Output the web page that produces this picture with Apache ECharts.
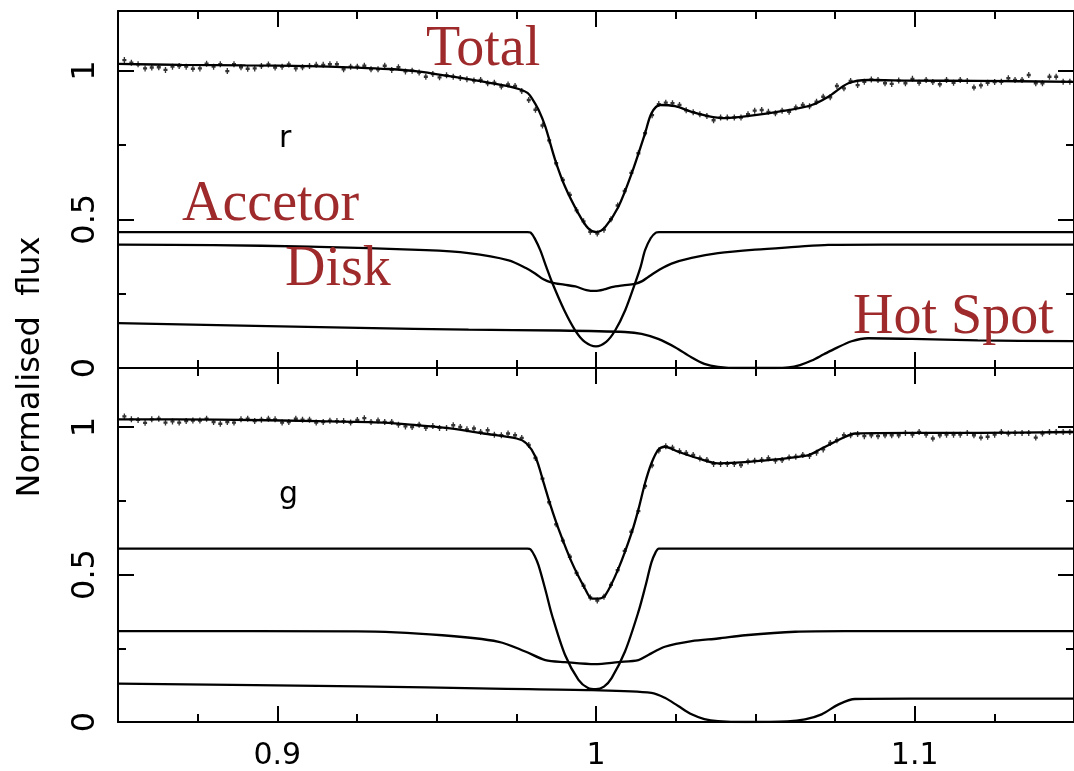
<!DOCTYPE html>
<html><head><meta charset="utf-8">
<script src="https://cdn.jsdelivr.net/npm/echarts@6/dist/echarts.min.js"></script>
<style>html,body{margin:0;padding:0;background:#fff}#c{width:1074px;height:771px}</style>
</head><body><div id="c"></div>
<script>
// ---- data ----
const phases = [0.8520,0.8542,0.8563,0.8585,0.8606,0.8628,0.8649,0.8671,0.8692,0.8714,
0.8735,0.8757,0.8778,0.8800,0.8821,0.8843,0.8864,0.8886,0.8907,0.8929,
0.8950,0.8972,0.8993,0.9015,0.9036,0.9058,0.9079,0.9101,0.9122,0.9144,
0.9165,0.9187,0.9208,0.9230,0.9251,0.9273,0.9294,0.9316,0.9337,0.9359,
0.9380,0.9402,0.9423,0.9445,0.9466,0.9488,0.9509,0.9531,0.9552,0.9574,
0.9595,0.9617,0.9638,0.9660,0.9681,0.9703,0.9724,0.9746,0.9767,0.9789,
0.9810,0.9832,0.9853,0.9875,0.9896,0.9918,0.9939,0.9961,0.9982,1.0004,
1.0025,1.0047,1.0068,1.0090,1.0111,1.0133,1.0154,1.0176,1.0197,1.0219,
1.0240,1.0262,1.0283,1.0305,1.0326,1.0348,1.0369,1.0391,1.0412,1.0434,
1.0455,1.0477,1.0498,1.0520,1.0541,1.0563,1.0584,1.0606,1.0627,1.0649,
1.0670,1.0692,1.0713,1.0735,1.0756,1.0778,1.0799,1.0821,1.0842,1.0864,
1.0885,1.0907,1.0928,1.0950,1.0971,1.0993,1.1014,1.1036,1.1057,1.1079,
1.1100,1.1122,1.1143,1.1165,1.1186,1.1208,1.1229,1.1251,1.1272,1.1294,
1.1315,1.1337,1.1358,1.1380,1.1401,1.1423,1.1444,1.1466,1.1487];

const dotsR = [1.035,1.026,1.021,1.007,1.010,1.011,1.002,1.013,1.015,1.013,
1.006,1.007,1.023,1.013,1.021,0.998,1.021,1.011,1.006,1.007,
1.015,1.020,1.010,1.013,1.020,1.007,1.011,1.015,1.019,1.019,
1.021,1.021,1.004,1.013,1.013,1.016,1.004,1.004,1.016,1.002,
1.011,0.997,0.999,0.993,0.979,0.988,0.977,0.984,0.979,0.975,
0.971,0.966,0.968,0.957,0.959,0.946,0.953,0.948,0.931,0.901,
0.868,0.815,0.765,0.688,0.632,0.582,0.530,0.493,0.458,0.452,
0.465,0.500,0.546,0.595,0.656,0.722,0.789,0.850,0.887,0.892,
0.890,0.884,0.866,0.860,0.853,0.847,0.833,0.842,0.842,0.842,
0.842,0.853,0.865,0.867,0.861,0.856,0.865,0.861,0.876,0.884,
0.880,0.895,0.912,0.910,0.948,0.940,0.965,0.951,0.962,0.970,
0.968,0.957,0.955,0.966,0.957,0.972,0.959,0.968,0.961,0.954,
0.968,0.959,0.968,0.965,0.943,0.950,0.959,0.961,0.962,0.974,
0.968,0.968,0.985,0.957,0.957,0.979,0.979,0.962,0.962];

const dotsG = [1.036,1.026,1.024,1.014,1.026,1.028,1.015,1.019,1.015,1.020,
1.022,1.022,1.028,1.017,1.011,1.017,1.015,1.026,1.028,1.020,
1.025,1.028,1.026,1.015,1.017,1.028,1.025,1.025,1.015,1.017,
1.021,1.020,1.020,1.015,1.024,1.030,1.017,1.022,1.017,1.017,
1.008,1.002,1.000,1.008,0.997,1.003,0.997,0.997,1.006,1.000,
0.992,0.995,0.983,0.989,0.974,0.972,0.978,0.972,0.963,0.939,
0.895,0.825,0.745,0.670,0.615,0.560,0.505,0.462,0.422,0.412,
0.425,0.465,0.515,0.580,0.645,0.715,0.800,0.870,0.920,0.935,
0.930,0.918,0.912,0.905,0.893,0.888,0.875,0.875,0.875,0.875,
0.871,0.883,0.886,0.888,0.894,0.886,0.888,0.897,0.899,0.905,
0.902,0.913,0.924,0.946,0.955,0.972,0.972,0.976,0.969,0.972,
0.969,0.972,0.972,0.972,0.980,0.974,0.983,0.974,0.961,0.972,
0.974,0.974,0.974,0.980,0.972,0.964,0.967,0.974,0.983,0.978,
0.980,0.980,0.980,0.964,0.978,0.983,0.983,0.983,0.983];

const totalR = [[0.850,1.022],[0.870,1.019],[0.890,1.017],[0.910,1.015],[0.925,1.010],[0.935,1.005],[0.944,0.997],[0.954,0.981],[0.965,0.962],[0.972,0.948],[0.976,0.937],[0.9785,0.925],[0.980,0.905],[0.982,0.867],[0.9841,0.811],[0.9872,0.699],[0.9903,0.609],[0.9945,0.519],[0.9975,0.470],[1.0002,0.457],[1.0029,0.474],[1.007,0.541],[1.0112,0.654],[1.0154,0.789],[1.0174,0.856],[1.0201,0.884],[1.0248,0.880],[1.030,0.861],[1.0352,0.847],[1.040,0.840],[1.0468,0.846],[1.0604,0.867],[1.0677,0.884],[1.0729,0.912],[1.0792,0.957],[1.0854,0.968],[1.099,0.966],[1.1198,0.965],[1.150,0.962]];
const accretorR = [[0.850,0.457],[0.970,0.457],[0.9785,0.457],[0.9795,0.455],[0.9808,0.435],[0.9825,0.396],[0.9844,0.340],[0.9864,0.283],[0.9900,0.195],[0.9935,0.126],[0.9965,0.088],[1.0000,0.073],[1.0032,0.088],[1.0060,0.126],[1.0092,0.195],[1.0122,0.283],[1.0140,0.340],[1.0154,0.396],[1.0172,0.437],[1.0188,0.455],[1.0198,0.457],[1.030,0.457],[1.150,0.457]];
const diskR = [[0.850,0.415],[0.880,0.413],[0.910,0.408],[0.9466,0.396],[0.960,0.386],[0.9726,0.362],[0.978,0.336],[0.981,0.317],[0.9835,0.298],[0.9862,0.287],[0.9900,0.280],[0.9935,0.274],[0.9970,0.262],[0.9997,0.259],[1.0025,0.264],[1.0049,0.272],[1.0085,0.278],[1.0122,0.283],[1.0145,0.292],[1.0164,0.306],[1.020,0.331],[1.0237,0.351],[1.030,0.370],[1.0383,0.386],[1.050,0.398],[1.0625,0.407],[1.0729,0.414],[1.090,0.415],[1.150,0.415]];
const hotspotR = [[0.850,0.151],[0.9257,0.135],[0.960,0.129],[0.9883,0.126],[1.0091,0.121],[1.0143,0.115],[1.0195,0.098],[1.0248,0.070],[1.0299,0.036],[1.0340,0.014],[1.0383,0.004],[1.045,0.000],[1.0560,0.000],[1.0604,0.002],[1.0640,0.010],[1.0677,0.025],[1.0715,0.046],[1.0750,0.065],[1.0802,0.090],[1.0854,0.100],[1.0990,0.098],[1.1198,0.093],[1.150,0.090]];

const totalG = [[0.850,1.026],[0.8813,1.025],[0.9126,1.020],[0.9334,1.015],[0.9438,1.006],[0.9543,0.995],[0.9647,0.978],[0.9751,0.961],[0.9782,0.944],[0.981,0.899],[0.9836,0.810],[0.9857,0.735],[0.9883,0.653],[0.9924,0.541],[0.9966,0.451],[0.9987,0.418],[1.0008,0.418],[1.0029,0.429],[1.007,0.519],[1.0112,0.642],[1.0133,0.720],[1.0154,0.810],[1.0174,0.877],[1.0195,0.922],[1.0216,0.933],[1.0258,0.916],[1.032,0.894],[1.0383,0.877],[1.0521,0.886],[1.0667,0.905],[1.0708,0.927],[1.0781,0.966],[1.0813,0.978],[1.099,0.980],[1.1198,0.980],[1.150,0.983]];
const accretorG = [[0.850,0.588],[0.970,0.588],[0.9785,0.588],[0.9795,0.585],[0.9808,0.562],[0.9820,0.530],[0.9842,0.445],[0.9862,0.362],[0.9903,0.227],[0.9945,0.143],[0.9975,0.115],[1.0000,0.111],[1.0025,0.120],[1.0049,0.149],[1.0091,0.239],[1.0133,0.373],[1.0155,0.460],[1.0174,0.541],[1.0187,0.575],[1.0197,0.588],[1.030,0.588],[1.150,0.588]];
const diskG = [[0.850,0.308],[0.925,0.307],[0.9518,0.294],[0.9695,0.272],[0.9778,0.239],[0.9841,0.210],[0.9903,0.203],[0.9997,0.196],[1.007,0.203],[1.0133,0.210],[1.0164,0.227],[1.0216,0.255],[1.030,0.274],[1.0383,0.283],[1.0468,0.294],[1.0625,0.306],[1.0781,0.308],[1.150,0.308]];
const hotspotG = [[0.850,0.130],[0.9257,0.121],[0.9674,0.113],[0.9987,0.108],[1.0174,0.099],[1.0216,0.082],[1.0258,0.054],[1.0300,0.026],[1.0340,0.010],[1.0383,0.003],[1.0468,0.000],[1.0600,0.002],[1.0656,0.009],[1.0708,0.026],[1.0760,0.059],[1.0813,0.078],[1.0990,0.079],[1.150,0.079]];

const xMajorTicks = [0.9, 1.0, 1.1];
const xMinorTicks = [0.875, 0.925, 0.95, 0.975, 1.025, 1.05, 1.075, 1.125];
const yMajorTicks = [0, 0.5, 1];
const yMinorTicks = [0.25, 0.75];
const xTickLabels = [0.9, 1, 1.1];
const yTickLabels = [0, 0.5, 1];
const bandNames = ['r', 'g'];
const componentNames = ['Total', 'Accetor', 'Disk', 'Hot Spot'];
const yTitle = 'Normalised  flux';

// ---- chart ----
const chart = echarts.init(document.getElementById('c'), null, {renderer: 'canvas'});
const grids = [
  {left: 118, top: 11, width: 959, height: 357},
  {left: 118, top: 368, width: 959, height: 356}
];
const xAxes = [], yAxes = [];
const lineSt = {color: '#000', width: 2};
function ax(kind, g, pos, ticks, len, isMajor, labels) {
  const a = {
    type: 'value', gridIndex: g, position: pos,
    min: kind === 'x' ? 0.85 : 0, max: kind === 'x' ? 1.15 : 1.2,
    splitLine: {show: false},
    axisLine: {show: isMajor, onZero: false, lineStyle: lineSt},
    axisTick: {show: true, inside: true, length: len, customValues: ticks, lineStyle: lineSt},
    axisLabel: {show: false}
  };
  if (labels) {
    a.axisLabel = {
      show: true, customValues: labels, color: '#000',
      fontFamily: 'DejaVu Sans', fontSize: kind === 'x' ? 30 : 32,
      margin: kind === 'x' ? 19 : 16, rotate: kind === 'x' ? 0 : 90
    };
  }
  return a;
}
for (let g = 0; g < 2; g++) {
  xAxes.push(ax('x', g, 'bottom', xMajorTicks, 16, true, g === 1 ? xTickLabels : null));
  xAxes.push(ax('x', g, 'bottom', xMinorTicks, 8, false));
  xAxes.push(ax('x', g, 'top', xMajorTicks, 16, true));
  xAxes.push(ax('x', g, 'top', xMinorTicks, 8, false));
  yAxes.push(ax('y', g, 'left', yMajorTicks, 16, true, yTickLabels));
  yAxes.push(ax('y', g, 'left', yMinorTicks, 8, false));
  yAxes.push(ax('y', g, 'right', yMajorTicks, 16, true));
  yAxes.push(ax('y', g, 'right', yMinorTicks, 8, false));
}
function line(data, g) {
  return {type: 'line', data: data, xAxisIndex: 4 * g, yAxisIndex: 4 * g, showSymbol: false,
    symbol: 'none', smooth: 0.3, lineStyle: {color: '#000', width: 2.3}, silent: true, z: 3};
}
function dots(vals, g) {
  return {type: 'scatter', data: phases.map((p, i) => [p, vals[i]]), xAxisIndex: 4 * g, yAxisIndex: 4 * g,
    symbol: 'path://M1,0 L2,0 L2,1.5 L3,1.5 L3,3.5 L2,3.5 L2,5 L1,5 L1,3.5 L0,3.5 L0,1.5 L1,1.5 Z',
    symbolSize: [4, 6], itemStyle: {color: '#000'}, silent: true, z: 4};
}
const red = '#9e2a2b';
const serif = '56px "Liberation Serif", "Times New Roman", serif';
function txt(t, x, y, font, fill, extra) {
  return Object.assign({type: 'text', x: x, y: y, z: 100, silent: true,
    style: {text: t, font: font, fill: fill, textAlign: 'left', textVerticalAlign: 'middle'}}, extra || {});
}
chart.setOption({
  animation: false,
  backgroundColor: '#fff',
  grid: grids,
  xAxis: xAxes,
  yAxis: yAxes,
  series: [
    line(totalR, 0), line(accretorR, 0), line(diskR, 0), line(hotspotR, 0), dots(dotsR, 0),
    line(totalG, 1), line(accretorG, 1), line(diskG, 1), line(hotspotG, 1), dots(dotsG, 1)
  ],
  graphic: [
    txt(componentNames[0], 426, 50, serif, red),
    txt(componentNames[1], 182, 205, serif, red),
    txt(componentNames[2], 285, 270, serif, red),
    txt(componentNames[3], 853, 318, serif, red),
    txt(bandNames[0], 279, 139, '30px "DejaVu Sans"', '#000'),
    txt(bandNames[1], 279, 495, '30px "DejaVu Sans"', '#000'),
    {type: 'text', x: 31, y: 367, rotation: Math.PI / 2, z: 100, silent: true,
      style: {text: yTitle, font: '32px "DejaVu Sans"', fill: '#000', textAlign: 'center', textVerticalAlign: 'middle'}}
  ]
});
</script></body></html>
